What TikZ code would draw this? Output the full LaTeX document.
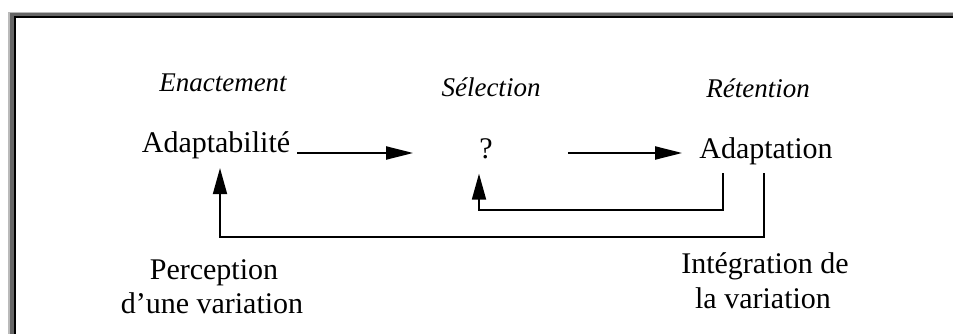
\documentclass[tikz,border=0pt]{standalone}
\usepackage{fontspec}
\setmainfont{Liberation Serif}
\usetikzlibrary{arrows.meta,calc}

\begin{document}
\begin{tikzpicture}
  [x=1pt,y=-1pt,
   titleN/.style={font=\fontsize{27}{30}\selectfont\itshape,inner sep=0pt,anchor=base},
   termN/.style={font=\fontsize{30}{34}\selectfont,inner sep=0pt,anchor=base},
   flow/.style={line width=2pt,-{Triangle[length=27pt,width=13pt]}},
   fback/.style={line width=1.8pt,-{Triangle[length=26pt,width=14pt]}}]

  \useasboundingbox (0,0) rectangle (953,334);
  \fill[black!27] (8,12) rectangle (953,13.3);
  \fill[black!27] (8,12) rectangle (10,334);
  \fill[black!60] (10,13.3) rectangle (953,16);
  \fill[black!60] (10,13.3) rectangle (13.5,334);
  \fill[black] (13.5,16) rectangle (953,18);
  \fill[black] (13.5,16) rectangle (15.5,334);

  \node[titleN] (enact) at (223,92) {Enactement};
  \node[titleN] (selec) at (491,97) {Sélection};
  \node[titleN] (reten) at (758,98) {Rétention};

  \node[termN] (adapt)  at (216,153) {Adaptabilité};
  \node[termN] (quest)  at (486,158) {?};
  \node[termN] (adaptn) at (766,159) {Adaptation};

  \node[termN] (percA)  at (214,279) {Perception};
  \node[termN] (percB)  at (212,313) {d’une variation};
  \node[termN] (integA) at (765,273) {Intégration de};
  \node[termN] (integB) at (763,308) {la variation};

  \draw[flow,shorten <=7pt,shorten >=66pt] (adapt.base east) -- (quest.west |- adapt.base east);
  \draw[flow,shorten <=75pt,shorten >=17pt] (quest.east |- adapt.base east) -- (adaptn.west |- adapt.base east);
  \draw[fback] ([xshift=-43pt,yshift=-7.5pt]adaptn.south) |- ([xshift=-7pt,yshift=-51pt]quest.south)
    -- ([xshift=-7pt,yshift=-15pt]quest.south);
  \draw[fback] ([xshift=-2pt,yshift=-7.5pt]adaptn.south) |- ([xshift=4pt,yshift=-77.5pt]adapt.south)
    -- ([xshift=4pt,yshift=-8.5pt]adapt.south);
\end{tikzpicture}
\end{document}
